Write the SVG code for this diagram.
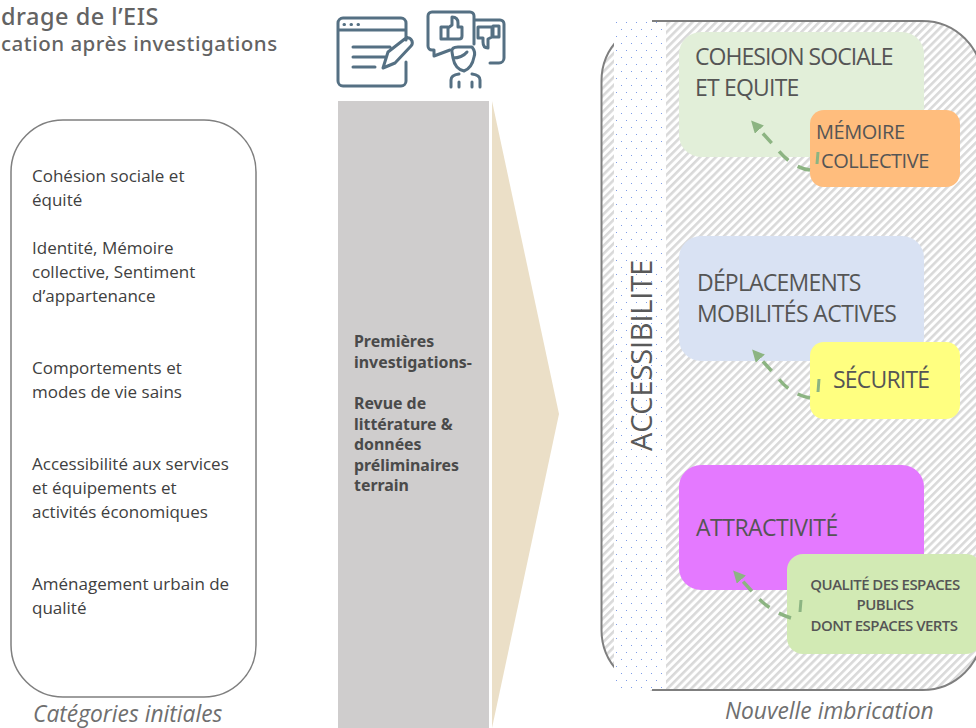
<svg xmlns="http://www.w3.org/2000/svg" width="976" height="728" viewBox="0 0 976 728">
<style>
text{font-family:"Open Sans","Noto Sans","DejaVu Sans",sans-serif;fill:#595959}
.l{font-size:17px;fill:#404040}
.h{font-family:"Noto Sans","Open Sans",sans-serif;font-weight:500;fill:#636363;letter-spacing:.5px}
.m{font-family:"Noto Sans",sans-serif;font-size:15.900px;font-weight:700;fill:#4a4a4a}
.r{font-size:23px;letter-spacing:-.8px;fill:#555}
.t{font-size:20px;letter-spacing:-.45px;fill:#555}
.s{font-size:15px;letter-spacing:-.55px;text-anchor:middle;fill:#555;font-weight:600}
.c{font-size:22.800px;font-style:italic;fill:#6f6f6f}
.i{fill:none;stroke:#557083;stroke-width:3;stroke-linecap:round;stroke-linejoin:round}
.a{fill:none;stroke:#8cb482;stroke-width:3.500;stroke-dasharray:13 11}
</style>
<defs>
<pattern id="hatch" width="5.600" height="5.600" patternUnits="userSpaceOnUse" patternTransform="rotate(-45)">
<rect width="5.600" height="5.600" fill="#fff"/><rect width="5.600" height="2.600" fill="#d9d9d9"/>
</pattern>
<pattern id="dots" width="10" height="14" patternUnits="userSpaceOnUse">
<rect width="10" height="14" fill="#fff"/><rect x="1" y="1" width="1" height="1" fill="#7f9de8"/><rect x="6" y="8" width="1" height="1" fill="#7f9de8"/>
</pattern>
<marker id="ah" markerWidth="3.500" markerHeight="3.500" refX="1" refY="1.750" orient="auto" markerUnits="strokeWidth"><path d="M0 0L3.500 1.750L0 3.500Z" fill="#8cb482"/></marker>
</defs>
<g id="title">
<text class="h" x="1" y="25" font-size="23.500">drage de l’EIS</text>
<text class="h" x="1" y="51" font-size="20.500">cation après investigations</text>
</g>
<g id="categories">
<rect x="11" y="120" width="245" height="577" rx="52" fill="#fff" stroke="#7f7f7f" stroke-width="1.500"/>
<text class="l"><tspan x="32" y="182">Cohésion sociale et</tspan><tspan x="32" y="206">équité</tspan><tspan x="32" y="254">Identité, Mémoire</tspan><tspan x="32" y="278">collective, Sentiment</tspan><tspan x="32" y="302">d’appartenance</tspan><tspan x="32" y="374">Comportements et</tspan><tspan x="32" y="398">modes de vie sains</tspan><tspan x="32" y="470">Accessibilité aux services</tspan><tspan x="32" y="494">et équipements et</tspan><tspan x="32" y="518">activités économiques</tspan><tspan x="32" y="590">Aménagement urbain de</tspan><tspan x="32" y="614">qualité</tspan></text>
<text class="c" x="33" y="722">Catégories initiales</text>
</g>
<g id="icon-form">
<path class="i" d="M406 40V23a5 5 0 0 0-5-5H343a5 5 0 0 0-5 5V81a5 5 0 0 0 5 5H401a5 5 0 0 0 5-5V62M338 30H406M353 47H390M353 57H385M353 67H375M383 68L388 52L406 38Q410 37 412 41Q413 44 411 46L395 63Z"/>
<path d="M344 24.500h.5M351 24.500h.5M358 24.500h.5" class="i"/>
</g>
<g id="icon-feedback">
<path class="i" d="M474 44V16a4 4 0 0 0-4-4H432a4 4 0 0 0-4 4V46a4 4 0 0 0 4 4H434V56L450 50M474 20H500a4 4 0 0 1 4 4V58a5 5 0 0 1-5 5H490"/>
<path class="i" d="M441 27V39H448V27ZM448 28L452 25V17Q458 17 458 23V27H462V36Q462 39 459 39H448M478 27H492V37L488 39V48Q483 48 483 42V38H478ZM493 26H499V37H493ZM452 52Q451 47 458 47H472Q476 52 474 57Q472 68 464 71Q455 69 453 58ZM453 58Q462 58 467 52M451 87V80Q451 75 459 74M480 87V80Q480 75 472 74M459 87V82M472 87V82"/>
</g>
<g id="investigations">
<rect x="338" y="101" width="151" height="627" fill="#cfcdcd"/>
<path d="M492 101L559 414L492 728Z" fill="#ebdfc7"/>
<text class="m"><tspan x="354" y="347">Premières</tspan><tspan x="354" y="368">investigations-</tspan><tspan x="354" y="409">Revue de</tspan><tspan x="354" y="430">littérature &amp;</tspan><tspan x="354" y="450">données</tspan><tspan x="354" y="471">préliminaires</tspan><tspan x="354" y="491">terrain</tspan></text>
</g>
<g id="frame">
<rect x="601.500" y="21" width="381" height="669" rx="60" fill="url(#hatch)" stroke="#7f7f7f" stroke-width="2"/>
<rect x="614" y="20" width="52" height="670" fill="url(#dots)"/>
<path d="M652 21H666M652 690H666" stroke="#7f7f7f" stroke-width="2" fill="none"/>
<text transform="translate(652 451) rotate(-90)" font-size="29" style="letter-spacing:-.15px">ACCESSIBILITE</text>
</g>
<g id="cohesion"><rect x="679" y="32" width="245" height="125" rx="22" fill="#e2efd9"/><text class="r"><tspan x="695" y="65" style="letter-spacing:-.97px">COHESION SOCIALE</tspan><tspan x="695" y="96">ET EQUITE</tspan></text></g>
<g id="deplacements"><rect x="679" y="236" width="245" height="125" rx="22" fill="#d9e2f3"/><text class="r"><tspan x="697" y="291">DÉPLACEMENTS</tspan><tspan x="697" y="322" style="letter-spacing:-.6px">MOBILITÉS ACTIVES</tspan></text></g>
<g id="attractivite"><rect x="679" y="465" width="245" height="125" rx="22" fill="#e479ff"/><text class="r" x="696" y="536" style="letter-spacing:-.5px">ATTRACTIVITÉ</text></g>
<g id="memoire"><rect x="810" y="110" width="150" height="77" rx="14" fill="#ffbd7d"/><text class="t"><tspan x="816" y="139">MÉMOIRE</tspan><tspan x="821" y="168">COLLECTIVE</tspan></text></g>
<g id="securite"><rect x="810" y="342" width="150" height="77" rx="14" fill="#ffff80"/><text class="r" x="833" y="388">SÉCURITÉ</text></g>
<g id="qualite"><rect x="787" y="554" width="195" height="100" rx="16" fill="#d2eab4"/><text class="s"><tspan x="885" y="590">QUALITÉ DES ESPACES</tspan><tspan x="885" y="610">PUBLICS</tspan><tspan x="884" y="631">DONT ESPACES VERTS</tspan></text></g>
<g id="connectors">
<path class="a" marker-end="url(#ah)" d="M810 170Q793 168 778 150L757 127"/>
<path d="M818 152L817 164M819 379L818 392M801 600L800 612" fill="none" stroke="#8cb482" stroke-width="3"/>
<path class="a" marker-end="url(#ah)" d="M810 398Q790 394 778 378L758 356"/>
<path class="a" marker-end="url(#ah)" d="M791 618Q772 612 758 598L739 577"/>
</g>
<text class="c" x="725" y="719">Nouvelle imbrication</text>
</svg>
